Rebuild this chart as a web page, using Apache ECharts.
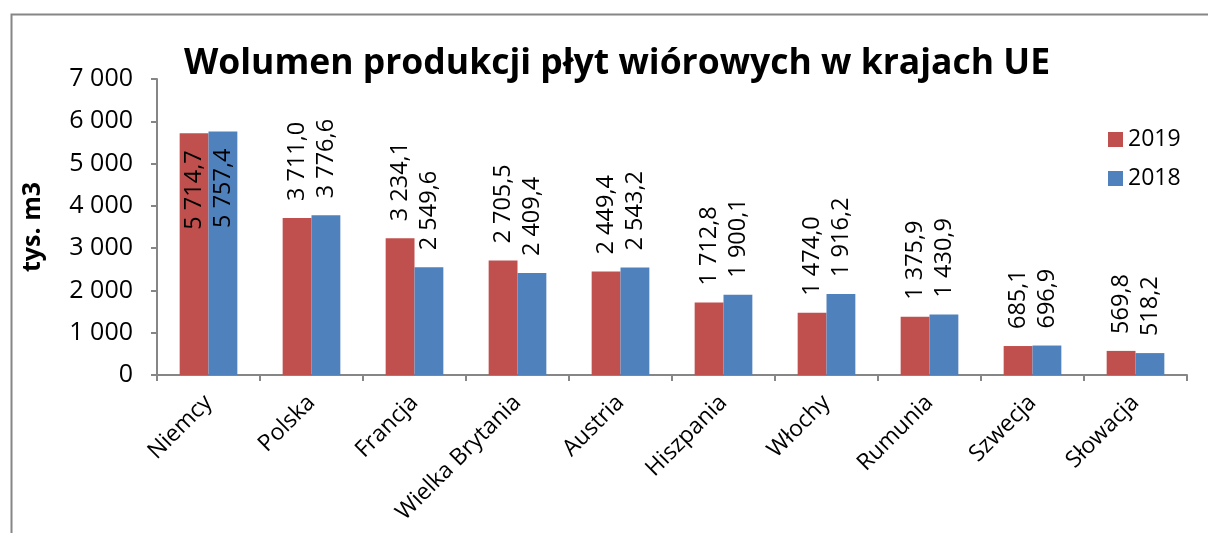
<!DOCTYPE html>
<html>
<head>
<meta charset="utf-8">
<script src="https://cdn.jsdelivr.net/npm/echarts@6/dist/echarts.min.js"></script>
<style>html,body{margin:0;padding:0;background:#fff}#c{width:1208px;height:533px}</style>
</head>
<body>
<div id="c"></div>
<script>
const categories = ['Niemcy','Polska','Francja','Wielka Brytania','Austria','Hiszpania','Włochy','Rumunia','Szwecja','Słowacja'];
const values2019 = [5714.7, 3711.0, 3234.1, 2705.5, 2449.4, 1712.8, 1474.0, 1375.9, 685.1, 569.8];
const values2018 = [5757.4, 3776.6, 2549.6, 2409.4, 2543.2, 1900.1, 1916.2, 1430.9, 696.9, 518.2];
const yTicks = [0, 1000, 2000, 3000, 4000, 5000, 6000, 7000];

const FONT = 'Open Sans';
function grp(s){ return s.replace(/\B(?=(\d{3})+(?!\d))/g, ' '); }
function fmtVal(v){ const p = v.toFixed(1).split('.'); return grp(p[0]) + ',' + p[1]; }
function fmtTick(v){ return grp(String(Math.round(v))); }

const insideIdx = [0];
function buildData(arr){
  return arr.map((v,i)=>{
    const inside = insideIdx.indexOf(i) >= 0;
    return {
      value: v,
      label: inside
        ? {position:'insideTop', align:'right', verticalAlign:'middle', distance:17}
        : {position:'top', align:'left', verticalAlign:'middle', distance:17}
    };
  });
}

const chart = echarts.init(document.getElementById('c'), null, {renderer:'canvas'});
const labelBase = {show:true, rotate:90, fontFamily:FONT, fontSize:23.5, color:'#000', formatter:p=>fmtVal(p.value)};
chart.setOption({
  animation:false,
  backgroundColor:'#fff',
  textStyle:{fontFamily:FONT},
  graphic:[{type:'rect', left:9, top:12, shape:{width:1400, height:800}, style:{fill:'none', stroke:'#868686', lineWidth:2}, silent:true}],
  title:{text:'Wolumen produkcji płyt wiórowych w krajach UE', left:612, textAlign:'center', top:41,
    textStyle:{fontFamily:FONT, fontWeight:'bold', fontSize:35.5, color:'#000'}},
  legend:{orient:'vertical', left:1103, top:123, itemWidth:15, itemHeight:15, itemGap:16,
    textStyle:{fontFamily:FONT, fontSize:23, color:'#000'}, icon:'rect', data:['2019','2018']},
  grid:{left:157, right:21, top:79, bottom:158, containLabel:false},
  xAxis:{type:'category', data:categories,
    axisLine:{lineStyle:{color:'#868686', width:2}},
    axisTick:{show:true, length:6, interval:0, lineStyle:{color:'#868686', width:2}},
    axisLabel:{interval:0, rotate:45, margin:24, fontFamily:FONT, fontSize:23, color:'#000'}},
  yAxis:{type:'value', min:yTicks[0], max:yTicks[yTicks.length-1], interval:1000,
    name:'tys. m3', nameLocation:'middle', nameGap:112, nameRotate:90,
    nameTextStyle:{fontFamily:FONT, fontWeight:'bold', fontSize:25, color:'#000'},
    axisLine:{show:true, lineStyle:{color:'#868686', width:2}},
    axisTick:{show:true, length:6, lineStyle:{color:'#868686', width:2}},
    splitLine:{show:false},
    axisLabel:{margin:24, fontFamily:FONT, fontSize:25, color:'#000', formatter:v=>fmtTick(v)}},
  series:[
    {name:'2019', type:'bar', data:buildData(values2019), barGap:'0%', barCategoryGap:'44%',
      itemStyle:{color:'#C0504D'}, label:labelBase},
    {name:'2018', type:'bar', data:buildData(values2018), barGap:'0%', barCategoryGap:'44%',
      itemStyle:{color:'#4F81BD'}, label:labelBase}
  ]
});
</script>
</body>
</html>
